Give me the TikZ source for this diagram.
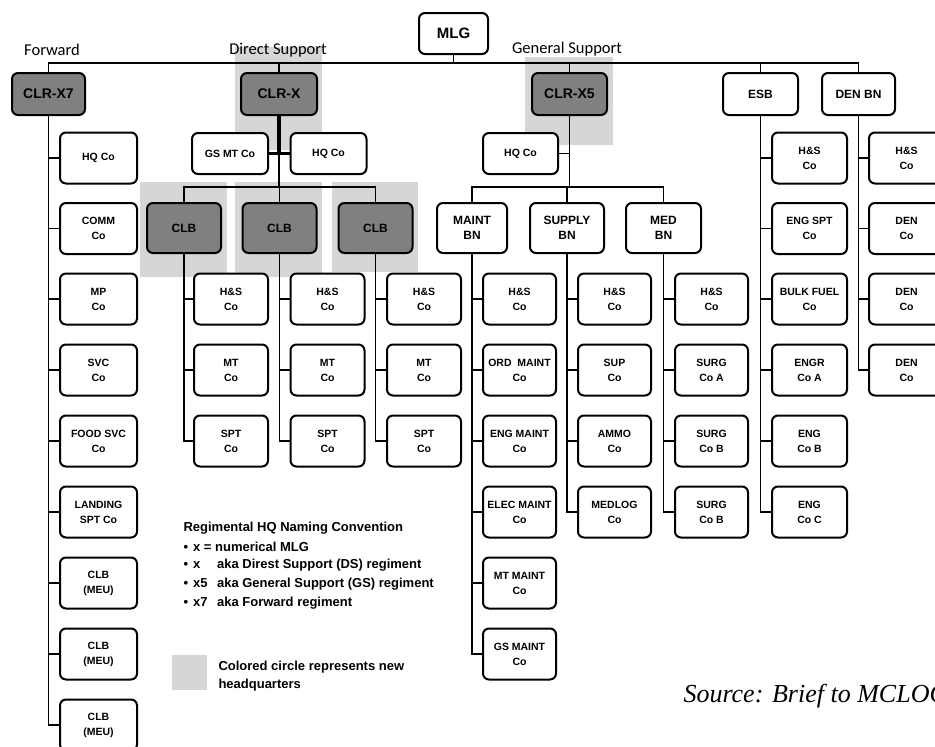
\documentclass[tikz,border=0pt]{standalone}
\usepackage{fontspec}
\setmainfont{Liberation Sans}
\newfontfamily\labelfont{Carlito}
\newfontfamily\sourcefont{Liberation Serif}
\usepackage{tikz}
\usepackage{xcolor}
\definecolor{hqgray}{RGB}{128,128,128}
\definecolor{hqshade}{RGB}{214,214,214}

\begin{document}
\begin{tikzpicture}[x=1pt, y=-1pt,
  every node/.style={font=\bfseries\fontsize{10.5}{15}\selectfont},
  cobox/.style={draw, line width=2pt, rounded corners=6pt, fill=white, align=center,
    inner sep=1pt, minimum width=75pt, minimum height=51pt},
  coboxone/.style={cobox, minimum height=41pt},
  bnbox/.style={cobox, minimum height=50pt, font=\bfseries\fontsize{12}{15}\selectfont},
  hqbox/.style={cobox, fill=hqgray, minimum height=42pt, font=\bfseries\fontsize{14}{16}\selectfont},
  clbbox/.style={hqbox, minimum height=50pt, font=\bfseries\fontsize{12}{15}\selectfont},
  tiebar/.style={line width=1.8pt},
  thickbar/.style={line width=3.6pt},
  newhqpatch/.style={fill=hqshade},
  grouplabel/.style={font=\labelfont\fontsize{16.5}{18}\selectfont},
  legtext/.style={anchor=west, font=\bfseries\fontsize{13}{15}\selectfont}]
  \useasboundingbox (0,0) rectangle (935,747);
  \clip (0,0) rectangle (935,747);
  % new headquarters shading
  \fill[newhqpatch] (235,47) rectangle (322,150);
  \fill[newhqpatch] (525,57) rectangle (613,145);
  \fill[newhqpatch] (140,182) rectangle (227,277);
  \fill[newhqpatch] (235,182) rectangle (322,277);
  \fill[newhqpatch] (332,182) rectangle (418,272);
  % top
  \node[coboxone, minimum width=69pt, font=\bfseries\fontsize{15}{17}\selectfont] (mlg) at (453.5,33.5) {MLG};
  \node[grouplabel] (fwd) at (52,50) {Forward};
  \node[grouplabel] (ds) at (278,50) {Direct Support};
  \node[grouplabel] (gs) at (567,49) {General Support};
  \node[hqbox, minimum width=73pt] (x7) at (48.5,94) {CLR-X7};
  \node[hqbox, minimum width=76pt] (clrx) at (279,94) {CLR-X};
  \node[hqbox] (x5) at (569.5,94) {CLR-X5};
  \node[bnbox, minimum height=42pt] (esb) at (760.5,94) {ESB};
  \node[bnbox, minimum height=42pt, minimum width=73pt] (den) at (858.5,94) {DEN BN};
  % forward regiment
  \node[cobox, minimum width=77pt] (x7a) at (98.5,158) {HQ Co};
  \node[cobox, minimum width=77pt] (x7b) at (98.5,228.5) {COMM\\Co};
  \node[cobox, minimum width=77pt] (x7c) at (98.5,299) {MP\\Co};
  \node[cobox, minimum width=77pt] (x7d) at (98.5,370) {SVC\\Co};
  \node[cobox, minimum width=77pt] (x7e) at (98.5,441) {FOOD SVC\\Co};
  \node[cobox, minimum width=77pt] (x7f) at (98.5,512) {LANDING\\SPT Co};
  \node[cobox, minimum width=77pt] (x7g) at (98.5,583) {CLB\\(MEU)};
  \node[cobox, minimum width=77pt] (x7h) at (98.5,654) {CLB\\(MEU)};
  \node[cobox, minimum width=77pt] (x7i) at (98.5,725) {CLB\\(MEU)};
  % direct support regiment
  \node[coboxone, minimum width=76pt] (gsmt) at (230,153.5) {GS MT Co};
  \node[coboxone, minimum width=76pt] (hqx) at (328.5,153.5) {HQ Co};
  \node[clbbox, minimum width=74pt] (clb1) at (184,228) {CLB};
  \node[clbbox, minimum width=74pt] (clb2) at (279.5,228) {CLB};
  \node[clbbox, minimum width=74pt] (clb3) at (375.5,228) {CLB};
  \node[cobox, minimum width=74pt] (clb1a) at (231,299) {H\&S\\Co};
  \node[cobox, minimum width=74pt] (clb1b) at (231,370) {MT\\Co};
  \node[cobox, minimum width=74pt] (clb1c) at (231,441) {SPT\\Co};
  \node[cobox, minimum width=74pt] (clb2a) at (327.5,299) {H\&S\\Co};
  \node[cobox, minimum width=74pt] (clb2b) at (327.5,370) {MT\\Co};
  \node[cobox, minimum width=74pt] (clb2c) at (327.5,441) {SPT\\Co};
  \node[cobox, minimum width=74pt] (clb3a) at (424,299) {H\&S\\Co};
  \node[cobox, minimum width=74pt] (clb3b) at (424,370) {MT\\Co};
  \node[cobox, minimum width=74pt] (clb3c) at (424,441) {SPT\\Co};
  % general support regiment
  \node[coboxone] (hqx5) at (520.5,153.5) {HQ Co};
  \node[bnbox, minimum width=70pt] (maint) at (472,228) {MAINT\\BN};
  \node[bnbox, minimum width=74pt] (supply) at (567,228) {SUPPLY\\BN};
  \node[bnbox] (med) at (663.5,228) {MED\\BN};
  \node[cobox, minimum width=73pt] (mnta) at (519.5,299) {H\&S\\Co};
  \node[cobox, minimum width=73pt] (mntb) at (519.5,370) {ORD\ \ MAINT\\Co};
  \node[cobox, minimum width=73pt] (mntc) at (519.5,441) {ENG MAINT\\Co};
  \node[cobox, minimum width=73pt] (mntd) at (519.5,512) {ELEC MAINT\\Co};
  \node[cobox, minimum width=73pt] (mnte) at (519.5,583) {MT MAINT\\Co};
  \node[cobox, minimum width=73pt] (mntf) at (519.5,654) {GS MAINT\\Co};
  \node[cobox, minimum width=73pt] (supa) at (614.5,299) {H\&S\\Co};
  \node[cobox, minimum width=73pt] (supb) at (614.5,370) {SUP\\Co};
  \node[cobox, minimum width=73pt] (supc) at (614.5,441) {AMMO\\Co};
  \node[cobox, minimum width=73pt] (supd) at (614.5,512) {MEDLOG\\Co};
  \node[cobox, minimum width=73pt] (meda) at (711.5,299) {H\&S\\Co};
  \node[cobox, minimum width=73pt] (medb) at (711.5,370) {SURG\\Co A};
  \node[cobox, minimum width=73pt] (medc) at (711.5,441) {SURG\\Co B};
  \node[cobox, minimum width=73pt] (medd) at (711.5,512) {SURG\\Co B};
  % ESB and DEN BN
  \node[cobox] (esba) at (809.5,158) {H\&S\\Co};
  \node[cobox] (esbb) at (809.5,228.5) {ENG SPT\\Co};
  \node[cobox] (esbc) at (809.5,299) {BULK FUEL\\Co};
  \node[cobox] (esbd) at (809.5,370) {ENGR\\Co A};
  \node[cobox] (esbe) at (809.5,441) {ENG\\Co B};
  \node[cobox] (esbf) at (809.5,512) {ENG\\Co C};
  \node[cobox] (dena) at (906.5,158) {H\&S\\Co};
  \node[cobox] (denb) at (906.5,228.5) {DEN\\Co};
  \node[cobox] (denc) at (906.5,299) {DEN\\Co};
  \node[cobox] (dend) at (906.5,370) {DEN\\Co};
  % connectors
  \coordinate (bus) at (0,63);
  \coordinate (subbus) at (0,187);
  \draw[tiebar] (x7.north) -- (x7.north |- bus) -- (den.north |- bus) -- (den.north)
    (mlg.south) -- (mlg.south |- bus)
    (clrx.north) -- (clrx.north |- bus)
    (x5.north) -- (x5.north |- bus)
    (esb.north) -- (esb.north |- bus);
  \draw[tiebar] (x7.south) |- (x7i.west)
    (x7.south |- x7a.west) -- (x7a.west) (x7.south |- x7b.west) -- (x7b.west)
    (x7.south |- x7c.west) -- (x7c.west) (x7.south |- x7d.west) -- (x7d.west)
    (x7.south |- x7e.west) -- (x7e.west) (x7.south |- x7f.west) -- (x7f.west)
    (x7.south |- x7g.west) -- (x7g.west) (x7.south |- x7h.west) -- (x7h.west);
  \draw[thickbar] (clrx.south) -- (clrx.south |- gsmt.east) (gsmt.east) -- (hqx.west);
  \draw[tiebar] (clrx.south |- gsmt.east) -- (clrx.south |- subbus)
    (clb1.north) -- (clb1.north |- subbus) -- (clb3.north |- subbus) -- (clb3.north)
    (clb2.north) -- (clb2.north |- subbus);
  \draw[tiebar] (clb1.south) |- (clb1c.west)
    (clb1.south |- clb1a.west) -- (clb1a.west) (clb1.south |- clb1b.west) -- (clb1b.west);
  \draw[tiebar] (clb2.south) |- (clb2c.west)
    (clb2.south |- clb2a.west) -- (clb2a.west) (clb2.south |- clb2b.west) -- (clb2b.west);
  \draw[tiebar] (clb3.south) |- (clb3c.west)
    (clb3.south |- clb3a.west) -- (clb3a.west) (clb3.south |- clb3b.west) -- (clb3b.west);
  \draw[tiebar] (x5.south) -- (x5.south |- subbus)
    (hqx5.east) -- (x5.south |- hqx5.east)
    (maint.north) -- (maint.north |- subbus) -- (med.north |- subbus) -- (med.north)
    (supply.north) -- (supply.north |- subbus);
  \draw[tiebar] (maint.south) |- (mntf.west)
    (maint.south |- mnta.west) -- (mnta.west) (maint.south |- mntb.west) -- (mntb.west)
    (maint.south |- mntc.west) -- (mntc.west) (maint.south |- mntd.west) -- (mntd.west)
    (maint.south |- mnte.west) -- (mnte.west);
  \draw[tiebar] (supply.south) |- (supd.west)
    (supply.south |- supa.west) -- (supa.west) (supply.south |- supb.west) -- (supb.west)
    (supply.south |- supc.west) -- (supc.west);
  \draw[tiebar] (med.south) |- (medd.west)
    (med.south |- meda.west) -- (meda.west) (med.south |- medb.west) -- (medb.west)
    (med.south |- medc.west) -- (medc.west);
  \draw[tiebar] (esb.south) |- (esbf.west)
    (esb.south |- esba.west) -- (esba.west) (esb.south |- esbb.west) -- (esbb.west)
    (esb.south |- esbc.west) -- (esbc.west) (esb.south |- esbd.west) -- (esbd.west)
    (esb.south |- esbe.west) -- (esbe.west);
  \draw[tiebar] (den.south) |- (dend.west)
    (den.south |- dena.west) -- (dena.west) (den.south |- denb.west) -- (denb.west)
    (den.south |- denc.west) -- (denc.west);
  % legend
  \node[legtext] (legtitle) at (180,528) {Regimental HQ Naming Convention};
  \node[legtext] (leg1) at (180,546.5) {\textbullet\hspace{5pt}x = numerical MLG};
  \node[legtext] (leg2) at (180,565) {\textbullet\hspace{5pt}\makebox[24pt][l]{x}aka Direst Support (DS) regiment};
  \node[legtext] (leg3) at (180,584) {\textbullet\hspace{5pt}\makebox[24pt][l]{x5}aka General Support (GS) regiment};
  \node[legtext] (leg4) at (180,603) {\textbullet\hspace{5pt}\makebox[24pt][l]{x7}aka Forward regiment};
  \node[newhqpatch, minimum size=35pt, inner sep=0pt] (swatch) at (189.5,672.5) {};
  \node[legtext, align=left, font=\bfseries\fontsize{13}{18}\selectfont] (legnote) at (215,676) {Colored circle represents new\\headquarters};
  \node[anchor=base west, font=\sourcefont\itshape\fontsize{26}{28}\selectfont] (source) at (680,702) {Source: Brief to MCLOG};
\end{tikzpicture}
\end{document}
